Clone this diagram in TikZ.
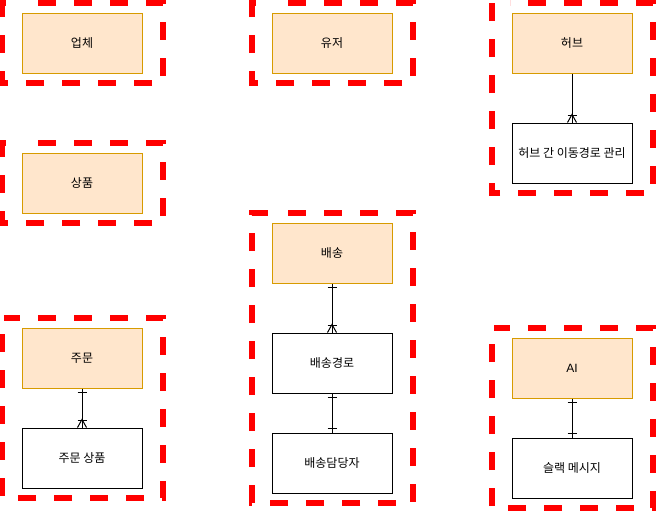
\documentclass[tikz,border=0pt]{standalone}
\usepackage{fontspec}
\setmainfont{Liberation Sans}
\newfontfamily\krfont{Noto Sans CJK KR}
\usetikzlibrary{calc}
\definecolor{grpred}{HTML}{FF0000}
\definecolor{entfill}{HTML}{FFE6CC}
\definecolor{entline}{HTML}{D79B00}
\newcommand\grprect[4]{%
  \draw[grp] (#1+18,#2) -- (#3,#2) -- (#3,#4) -- (#1,#4) -- (#1,#2) -- (#1+18,#2);}
\newcommand\onebar[1]{%
  \draw[conn] ($(#1)+(-4.5,4)$) -- ++(9,0);}
\newcommand\onebarup[1]{%
  \draw[conn] ($(#1)+(-4.5,-4)$) -- ++(9,0);}
\newcommand\crowfoot[1]{%
  \draw[conn] ($(#1)+(-4.5,0)$) -- ($(#1)+(0,-8)$) -- ($(#1)+(4.5,0)$);
  \draw[conn] ($(#1)+(-4.5,-7)$) -- ++(9,0);}
\begin{document}
\begin{tikzpicture}[x=1pt,y=-1pt,
  grp/.style={draw=grpred,line width=6pt,dash pattern=on 18pt off 18pt,dash phase=18pt,line join=miter},
  boxbase/.style={minimum width=120pt,minimum height=60pt,inner sep=0pt,line width=1pt,
    font=\krfont\fontsize{12}{14}\selectfont,text=black},
  ent/.style={boxbase,draw=entline,fill=entfill},
  sub/.style={boxbase,draw=black,fill=white},
  conn/.style={draw=black,line width=1pt}]
\useasboundingbox (0,0) rectangle (656,512);
\fill[white] (0,0) rectangle (656,512);
% groups
\grprect{2}{3}{163}{83}
\grprect{252}{3}{413}{83}
\grprect{492}{3}{653}{193}
\grprect{2}{143}{163}{223}
\grprect{252}{213}{413}{503}
\grprect{2}{318}{163}{498}
\grprect{492}{328}{653}{508}
% entities
\node[ent] (vendor) at (82,43) {업체};
\node[ent] (user) at (332,43) {유저};
\node[ent] (hub) at (572,43) {허브};
\node[sub] (hubroute) at (572,153) {허브 간 이동경로 관리};
\node[ent] (product) at (82,183) {상품};
\node[ent] (delivery) at (332,253) {배송};
\node[sub] (droute) at (332,363) {배송경로};
\node[sub] (dman) at (332,463) {배송담당자};
\node[ent] (order) at (82,358) {주문};
\node[sub] (oitem) at (82,458) {주문 상품};
\node[ent] (ai) at (572,368) {\rmfamily AI};
\node[sub] (slack) at (572,468) {슬랙 메시지};
% connectors
\draw[conn] (hub.south) -- (hubroute.north);
\crowfoot{hubroute.north}
\draw[conn] (delivery.south) -- (droute.north);
\onebar{delivery.south}
\crowfoot{droute.north}
\draw[conn] (droute.south) -- (dman.north);
\onebar{droute.south}
\onebarup{dman.north}
\draw[conn] (order.south) -- (oitem.north);
\onebar{order.south}
\crowfoot{oitem.north}
\draw[conn] (ai.south) -- (slack.north);
\onebar{ai.south}
\onebarup{slack.north}
\end{tikzpicture}
\end{document}
